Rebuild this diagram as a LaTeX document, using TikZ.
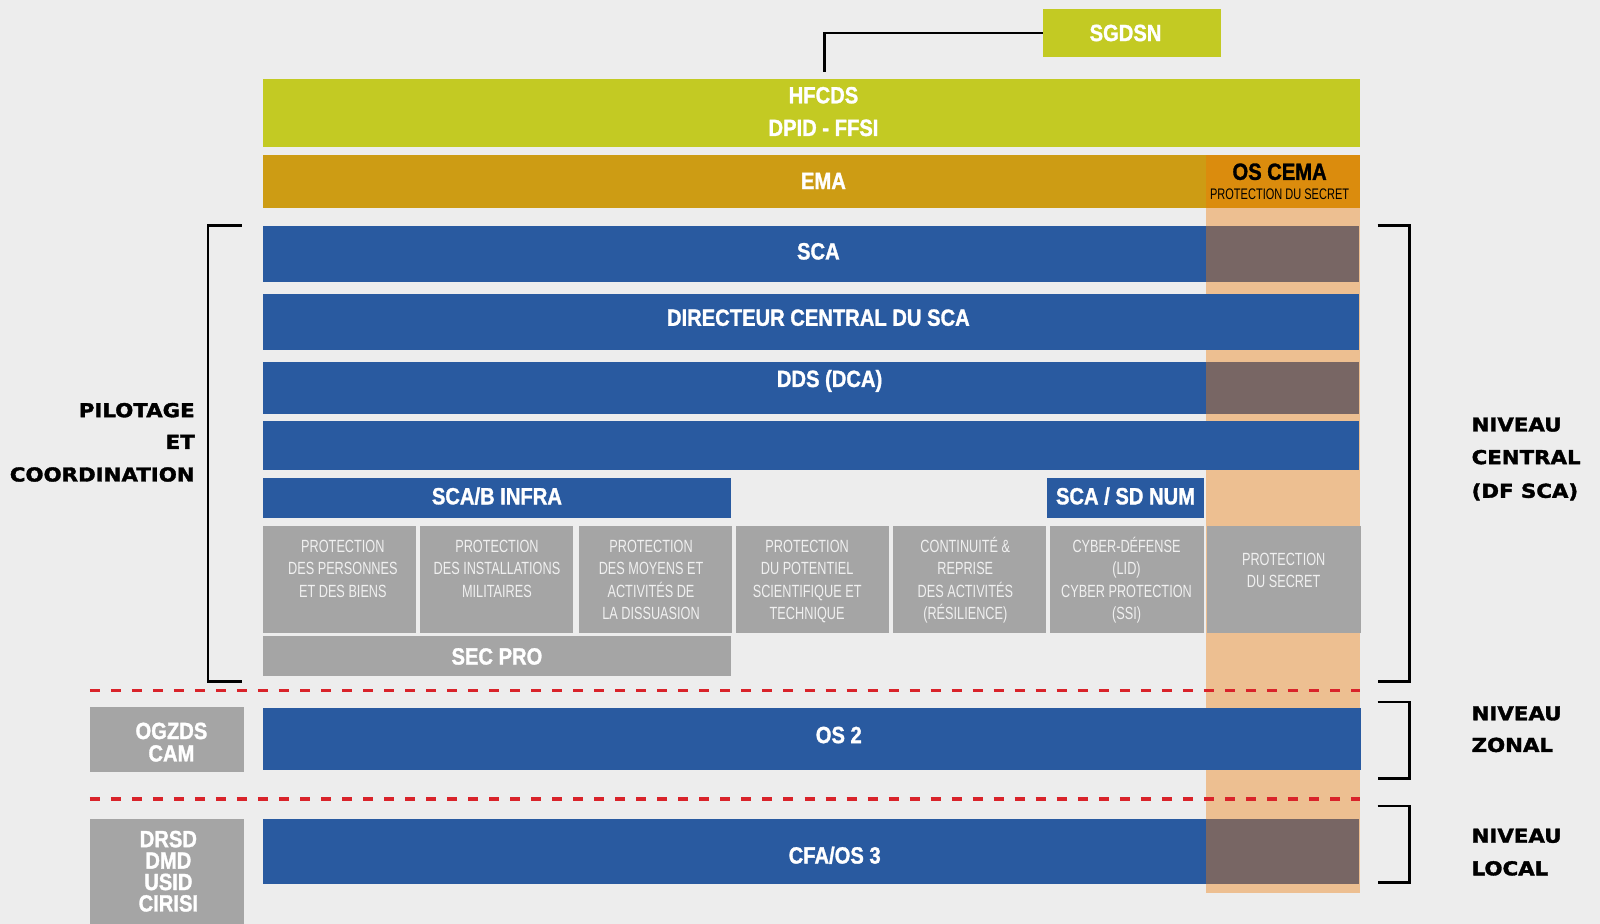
\documentclass[tikz,border=0pt]{standalone}
\usepackage{fontspec}
\newfontfamily\cbf[FakeStretch=0.86,FakeBold=1.3]{Liberation Sans}
\newfontfamily\crg[FakeStretch=0.72]{Liberation Sans}
\newfontfamily\lblf[FakeStretch=1.11,FakeBold=1.8]{DejaVu Sans}
\definecolor{bgx}{HTML}{EDEDED}
\definecolor{limex}{HTML}{C3CA23}
\definecolor{emax}{HTML}{CD9C14}
\definecolor{oscemax}{HTML}{DB8C0D}
\definecolor{peachx}{HTML}{EDBF91}
\definecolor{brownx}{HTML}{786664}
\definecolor{bluex}{HTML}{295AA0}
\definecolor{grayx}{HTML}{A5A5A5}
\definecolor{gtextx}{HTML}{F0F0F0}
\definecolor{redx}{HTML}{D9232A}
\newcommand\bx[6]{\node[rect, fill=#6, minimum width={(#4)-(#2)}, minimum height={(#5)-(#3)}] (#1) at (#2,#3) {};}
\begin{document}
\begin{tikzpicture}[x=1pt,y=-1pt,
  rect/.style={inner sep=0pt, outer sep=0pt, anchor=north west, draw=none},
  bt/.style={text=white, font=\cbf\bfseries\fontsize{23}{28}\selectfont, inner sep=0pt, text height=16.5pt, text depth=0pt},
  gt/.style={text=gtextx, font=\crg\fontsize{17.3}{22}\selectfont, inner sep=0pt, text height=12.4pt, text depth=0pt},
  st/.style={text=black, font=\crg\fontsize{15}{18}\selectfont, inner sep=0pt, text height=10.8pt, text depth=0pt},
  lbl/.style={text=black, font=\lblf\bfseries\fontsize{18.8}{31}\selectfont, inner sep=0pt, text height=13.7pt, text depth=0pt},
  conn/.style={draw=black, line width=2.6pt},
  brk/.style={draw=black, line width=2.6pt},
  reddash/.style={draw=redx, line width=3pt, dash pattern=on 9.8pt off 10.8pt}]
\useasboundingbox (0,0) rectangle (1568,905.5);
\fill[bgx] (0,0) rectangle (1568,905.5);
% peach column
\bx{peach}{1182}{204}{1333}{875}{peachx}
% boxes
\bx{sgdsn}{1022}{9}{1197}{56}{limex}
\bx{hfcds}{258}{77}{1333}{144}{limex}
\bx{ema}{258}{152}{1182}{204}{emax}
\bx{oscema}{1182}{152}{1333}{204}{oscemax}
\bx{sca}{258}{221}{1182}{276}{bluex}
\bx{scab}{1182}{221}{1332}{276}{brownx}
\bx{dir}{258}{288}{1332}{343}{bluex}
\bx{dds}{258}{355}{1182}{406}{bluex}
\bx{ddsb}{1182}{355}{1332}{406}{brownx}
\bx{blank}{258}{413}{1332}{461}{bluex}
\bx{infra}{258}{468}{716}{508}{bluex}
\bx{num}{1026}{468}{1180}{508}{bluex}
\bx{g1}{258}{515}{408}{620}{grayx}
\bx{g2}{412}{515}{562}{620}{grayx}
\bx{g3}{567}{515}{717}{620}{grayx}
\bx{g4}{721}{515}{871}{620}{grayx}
\bx{g5}{875}{515}{1025}{620}{grayx}
\bx{g6}{1029}{515}{1180}{620}{grayx}
\bx{g7}{1183}{515}{1334}{620}{grayx}
\bx{secpro}{258}{623}{716}{662}{grayx}
\bx{ogz}{88}{693}{239}{757}{grayx}
\bx{os2}{258}{694}{1334}{755}{bluex}
\bx{drsd}{88}{803}{239}{906}{grayx}
\bx{cfa}{258}{803}{1182}{866}{bluex}
\bx{cfab}{1182}{803}{1332}{866}{brownx}
% connector
\coordinate (hftop) at (808,71);
\draw[conn] (sgdsn.west) -| (hftop);
% dashed separators
\draw[reddash] (88,677) -- (1333,677);
\draw[reddash] (88,783) -- (1333,783);
% brackets
\draw[brk] (237,221) -- (204,221) -- (204,668) -- (237,668);
\draw[brk] (1350,221) -- (1381,221) -- (1381,668) -- (1350,668);
\draw[brk] (1350,688) -- (1381,688) -- (1381,763) -- (1350,763);
\draw[brk] (1350,790) -- (1381,790) -- (1381,865) -- (1350,865);
% texts
\node[bt] (t-sgdsn) at (1103,32) {SGDSN};
\node[bt] (t-hf1) at (807,93) {HFCDS};
\node[bt] (t-hf2) at (807,125) {DPID - FFSI};
\node[bt] (t-ema) at (807,177) {EMA};
\node[bt, text=black] (t-oscema) at (1254,168) {OS CEMA};
\node[st] (t-ps) at (1254,190) {PROTECTION DU SECRET};
\node[bt] (t-sca) at (802,246) {SCA};
\node[bt] (t-dir) at (802,311) {DIRECTEUR CENTRAL DU SCA};
\node[bt] (t-dds) at (813,371) {DDS (DCA)};
\node[bt] (t-infra) at (487,486) {SCA/B INFRA};
\node[bt] (t-num) at (1103,486) {SCA / SD NUM};
\node[bt] (t-secpro) at (487,643) {SEC PRO};
\node[bt] (t-os2) at (822,720) {OS 2};
\node[bt] (t-cfa) at (818,838) {CFA/OS 3};
\foreach \t [count=\i from 0] in {OGZDS,CAM}
  \node[bt] (t-ogz-\i) at (168,{716+22*\i}) {\t};
\foreach \t [count=\i from 0] in {DRSD,DMD,USID,CIRISI}
  \node[bt] (t-drsd-\i) at (165,{822+21*\i}) {\t};
\foreach \t [count=\i from 0] in {PROTECTION,DES PERSONNES,ET DES BIENS}
  \node[gt] (t-g1-\i) at (336,{535+22*\i}) {\t};
\foreach \t [count=\i from 0] in {PROTECTION,DES INSTALLATIONS,MILITAIRES}
  \node[gt] (t-g2-\i) at (487,{535+22*\i}) {\t};
\foreach \t [count=\i from 0] in {PROTECTION,DES MOYENS ET,ACTIVITÉS DE,LA DISSUASION}
  \node[gt] (t-g3-\i) at (638,{535+22*\i}) {\t};
\foreach \t [count=\i from 0] in {PROTECTION,DU POTENTIEL,SCIENTIFIQUE ET,TECHNIQUE}
  \node[gt] (t-g4-\i) at (791,{535+22*\i}) {\t};
\foreach \t [count=\i from 0] in {CONTINUITÉ \&,REPRISE,DES ACTIVITÉS,(RÉSILIENCE)}
  \node[gt] (t-g5-\i) at (946,{535+22*\i}) {\t};
\foreach \t [count=\i from 0] in {CYBER-DÉFENSE,(LID),CYBER PROTECTION,(SSI)}
  \node[gt] (t-g6-\i) at (1104,{535+22*\i}) {\t};
\foreach \t [count=\i from 0] in {PROTECTION,DU SECRET}
  \node[gt] (t-g7-\i) at (1258,{548+22*\i}) {\t};
% side labels
\node[lbl, anchor=east] (l-pil) at (191,402) {PILOTAGE};
\node[lbl, anchor=east] (l-et) at (191,433) {ET};
\node[lbl, anchor=east] (l-coord) at (191,465) {COORDINATION};
\node[lbl, anchor=west] (r-c1) at (1442,416) {NIVEAU};
\node[lbl, anchor=west] (r-c2) at (1442,448) {CENTRAL};
\node[lbl, anchor=west] (r-c3) at (1442,481) {(DF SCA)};
\node[lbl, anchor=west] (r-z1) at (1442,699) {NIVEAU};
\node[lbl, anchor=west] (r-z2) at (1442,730) {ZONAL};
\node[lbl, anchor=west] (r-l1) at (1442,819) {NIVEAU};
\node[lbl, anchor=west] (r-l2) at (1442,851) {LOCAL};
\end{tikzpicture}
\end{document}
